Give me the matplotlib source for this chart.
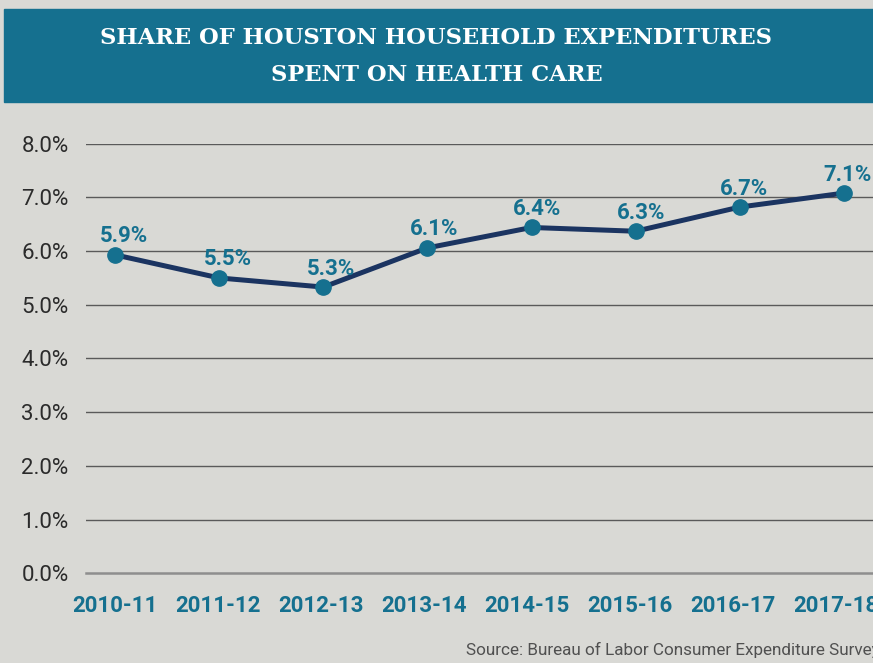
import matplotlib
matplotlib.use("Agg")
import matplotlib.pyplot as plt
from matplotlib.transforms import ScaledTranslation

years = ['2010-11', '2011-12', '2012-13', '2013-14', '2014-15', '2015-16', '2016-17', '2017-18']
share = [5.93, 5.50, 5.33, 6.06, 6.44, 6.37, 6.82, 7.08]   # percent, as plotted
share_labels = ['5.9%', '5.5%', '5.3%', '6.1%', '6.4%', '6.3%', '6.7%', '7.1%']
yticks = [0, 1, 2, 3, 4, 5, 6, 7, 8]

BG = '#d9d9d5'
TEAL = '#15708f'
NAVY = '#1b3461'

fig = plt.figure(figsize=(8.73, 6.63), dpi=100, facecolor=BG)

# title banner
fig.patches.append(plt.Rectangle((4 / 873, 1 - 101.5 / 663), 1, 92.5 / 663,
                                 transform=fig.transFigure, color=TEAL, zorder=0))
fig.text(0.5, 1 - 38.5 / 663, 'SHARE OF HOUSTON HOUSEHOLD EXPENDITURES',
         ha='center', va='center', color='white', fontsize=16.3,
         family='DejaVu Serif', weight='bold')
fig.text(0.5, 1 - 75 / 663, 'SPENT ON HEALTH CARE',
         ha='center', va='center', color='white', fontsize=16.3,
         family='DejaVu Serif', weight='bold')

ax = fig.add_axes([86 / 873, (663 - 573.3) / 663, 787 / 873, 429.6 / 663])
ax.set_facecolor(BG)
x = list(range(len(years)))
ax.set_xlim(-0.28, 7.28)
ax.set_ylim(0, 8)

for t in yticks:
    if t == 0:
        ax.axhline(t, color='#8e8e8e', lw=1.8, zorder=1, clip_on=False)
    else:
        ax.axhline(t, color='#5a5a5a', lw=1.0, zorder=1)

ax.plot(x, share, color=NAVY, lw=3.6, zorder=3, solid_capstyle='round')
ax.plot(x, share, 'o', color=TEAL, ms=11, zorder=4)

# value labels sit a little right of the points, less so toward the right edge
for i, (xi, yi, lab) in enumerate(zip(x, share, share_labels)):
    dx = (9 - 0.8 * i) * 0.72
    ax.annotate(lab, (xi, yi), xytext=(dx, 9), textcoords='offset points',
                ha='center', va='baseline', color=TEAL, fontsize=16,
                family='Roboto', weight='bold', annotation_clip=False)

for s in ax.spines.values():
    s.set_visible(False)
ax.set_yticks(yticks)
ax.set_yticklabels([f'{t:.1f}%' for t in yticks], fontsize=16,
                   color='#2b2b2b', family='Roboto')
ax.set_xticks(x)
ax.set_xticklabels(years, fontsize=16, color=TEAL, family='Roboto', weight='bold')
ax.tick_params(axis='y', length=0, pad=12.5)
ax.tick_params(axis='x', length=0, pad=15.5)
# category labels are spaced a touch tighter than the points
for i, lbl in enumerate(ax.get_xticklabels()):
    lbl.set_transform(lbl.get_transform() + ScaledTranslation(-1.2 * i / 100, 0, fig.dpi_scale_trans))

fig.text(1 + 7 / 873, 1 - 650 / 663, 'Source: Bureau of Labor Consumer Expenditure Survey',
         ha='right', va='center', color='#505050', fontsize=12.3, family='Roboto')

fig.savefig('out.png', dpi=100, facecolor=BG)
